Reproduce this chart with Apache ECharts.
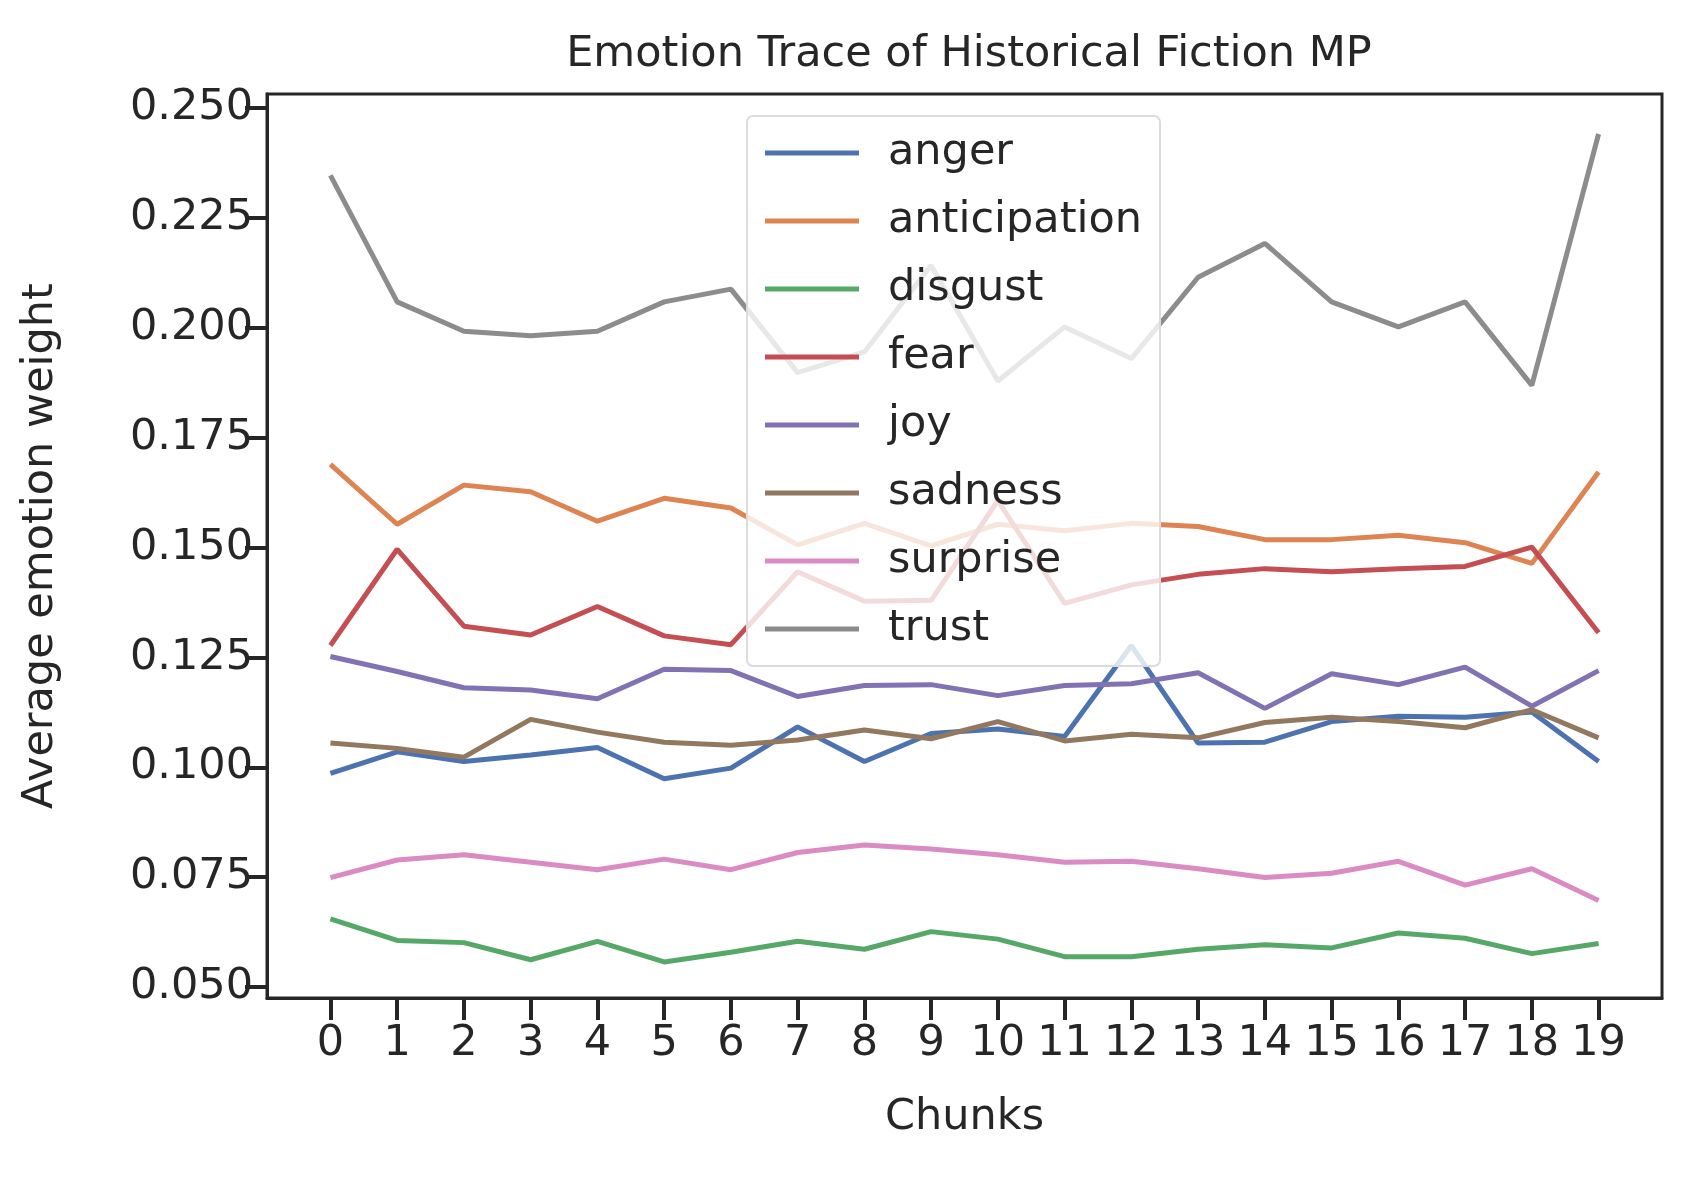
<!DOCTYPE html>
<html><head><meta charset="utf-8">
<script src="https://cdn.jsdelivr.net/npm/echarts@6/dist/echarts.min.js"></script>
<style>html,body{margin:0;padding:0;background:#fff}#c{width:1690px;height:1178px}</style>
</head><body><div id="c"></div>
<script>
const chunks = [0,1,2,3,4,5,6,7,8,9,10,11,12,13,14,15,16,17,18,19];
const yTicks = [0.05,0.075,0.1,0.125,0.15,0.175,0.2,0.225,0.25];
const names = ['anger','anticipation','disgust','fear','joy','sadness','surprise','trust'];
const colors = ['#4C72B0','#DD8452','#55A868','#C44E52','#8172B3','#937860','#DA8BC3','#8C8C8C'];
const anger = [0.0986,0.1035,0.1013,0.1028,0.1045,0.0974,0.0998,0.1092,0.1013,0.1077,0.1087,0.1070,0.1277,0.1055,0.1057,0.1104,0.1116,0.1114,0.1126,0.1013];
const anticipation = [0.1689,0.1553,0.1642,0.1627,0.1560,0.1612,0.1590,0.1506,0.1555,0.1504,0.1553,0.1538,0.1555,0.1548,0.1518,0.1518,0.1528,0.1511,0.1464,0.1672];
const disgust = [0.0655,0.0606,0.0601,0.0562,0.0604,0.0557,0.0579,0.0604,0.0586,0.0626,0.0609,0.0569,0.0569,0.0586,0.0596,0.0589,0.0623,0.0611,0.0576,0.0599];
const fear = [0.1277,0.1496,0.1321,0.1301,0.1366,0.1299,0.1279,0.1445,0.1378,0.1380,0.1607,0.1373,0.1415,0.1439,0.1452,0.1445,0.1452,0.1457,0.1501,0.1306];
const joy = [0.1252,0.1218,0.1181,0.1176,0.1156,0.1223,0.1220,0.1161,0.1186,0.1188,0.1163,0.1186,0.1190,0.1215,0.1134,0.1213,0.1188,0.1228,0.1139,0.1220];
const sadness = [0.1055,0.1043,0.1023,0.1109,0.1080,0.1057,0.1050,0.1062,0.1085,0.1065,0.1104,0.1060,0.1075,0.1067,0.1102,0.1114,0.1104,0.1090,0.1131,0.1067];
const surprise = [0.0749,0.0789,0.0801,0.0784,0.0767,0.0791,0.0767,0.0806,0.0823,0.0814,0.0801,0.0784,0.0786,0.0769,0.0749,0.0759,0.0786,0.0732,0.0769,0.0697];
const trust = [0.2347,0.2059,0.1992,0.1982,0.1992,0.2059,0.2088,0.1898,0.1945,0.2142,0.1879,0.2002,0.1930,0.2115,0.2192,0.2059,0.2002,0.2059,0.1869,0.2441];
const all = [anger,anticipation,disgust,fear,joy,sadness,surprise,trust];
const font = 'DejaVu Sans';
const ink = '#262626';
const chart = echarts.init(document.getElementById('c'));
chart.setOption({
  animation:false,
  title:{text:'Emotion Trace of Historical Fiction MP',left:964,top:28,textAlign:'center',
    textStyle:{fontFamily:font,fontSize:43,fontWeight:'normal',color:ink}},
  grid:{left:267,right:28,top:94,bottom:180,show:true,borderColor:ink,borderWidth:3,backgroundColor:'transparent'},
  xAxis:{type:'value',min:-0.95,max:19.95,
    name:'Chunks',nameLocation:'middle',nameGap:98,nameTextStyle:{fontFamily:font,fontSize:43,color:ink},
    axisLine:{show:true,onZero:false,lineStyle:{color:ink,width:3}},
    axisTick:{show:true,length:22,lineStyle:{color:ink,width:4},customValues:chunks},
    axisLabel:{fontFamily:font,fontSize:43,color:ink,margin:24,customValues:chunks,formatter:v=>String(v)},
    splitLine:{show:false}},
  yAxis:{type:'value',min:0.0475,max:0.2532,
    name:'Average emotion weight',nameLocation:'middle',nameGap:205,nameTextStyle:{fontFamily:font,fontSize:43,color:ink},
    axisLine:{show:true,onZero:false,lineStyle:{color:ink,width:3}},
    axisTick:{show:true,length:22,lineStyle:{color:ink,width:4},customValues:yTicks},
    axisLabel:{fontFamily:font,fontSize:43,color:ink,margin:14,customValues:yTicks,formatter:v=>v.toFixed(3)},
    splitLine:{show:false}},
  legend:{orient:'vertical',left:747,top:116,data:names,
    icon:'rect',itemWidth:94,itemHeight:5,itemGap:22,
    padding:[14,18,14,18],backgroundColor:'rgba(255,255,255,0.8)',borderColor:'#dcdcdc',borderWidth:2,borderRadius:6,
    textStyle:{fontFamily:font,fontSize:43,color:ink,lineHeight:46,padding:[0,0,0,24]}},
  series:names.map((n,i)=>({name:n,type:'line',data:chunks.map((c,j)=>[c,all[i][j]]),
    showSymbol:false,symbol:'none',color:colors[i],lineStyle:{width:5,color:colors[i]}}))
});
</script></body></html>
